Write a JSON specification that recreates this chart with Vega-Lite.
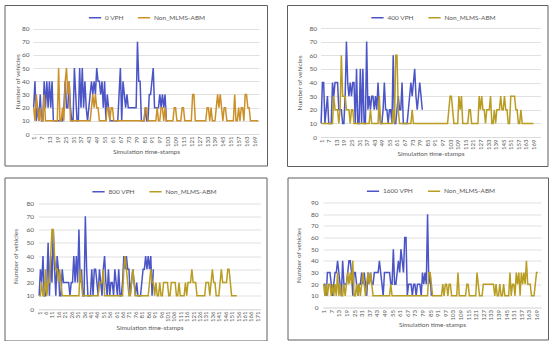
{
"$schema": "https://vega.github.io/schema/vega-lite/v6.json",
"background": "white",
"padding": {"left": 3.5, "top": 4, "right": 0, "bottom": 0},
"spacing": 9.5,
"resolve": {"scale": {"color": "independent"}, "legend": {"color": "independent"}},
"config": {
  "font": "Lato",
  "view": {"stroke": "#5f5f5f", "strokeWidth": 1},
  "axis": {"labelFontSize": 6.5, "labelColor": "#595959", "titleFontSize": 6.5, "titleColor": "#595959", "titleFontWeight": "normal", "gridColor": "#d9d9d9", "gridWidth": 0.8, "ticks": false, "domainColor": "#d9d9d9", "domainWidth": 0.8},
  "axisX": {"labelFontSize": 6},
  "legend": {"labelFontSize": 6.5, "labelColor": "#595959", "symbolType": "stroke", "symbolStrokeWidth": 2, "symbolSize": 150, "columnSpacing": 8, "labelOffset": 3, "symbolOffset": 0, "padding": 0},
  "line": {"strokeWidth": 1.5}
},
"datasets": {
"p1": [
{"t":1,"v":20,"n":20},{"t":2,"v":40,"n":10},{"t":3,"v":10,"n":30},{"t":4,"v":20,"n":20},{"t":5,"v":10,"n":10},{"t":6,"v":30,"n":20},{"t":7,"v":10,"n":10},{"t":8,"v":10,"n":10},{"t":9,"v":40,"n":30},{"t":10,"v":20,"n":10},
{"t":11,"v":40,"n":10},{"t":12,"v":20,"n":10},{"t":13,"v":40,"n":10},{"t":14,"v":20,"n":10},{"t":15,"v":40,"n":10},{"t":16,"v":10,"n":10},{"t":17,"v":10,"n":10},{"t":18,"v":10,"n":10},{"t":19,"v":10,"n":10},{"t":20,"v":10,"n":50},
{"t":21,"v":10,"n":10},{"t":22,"v":10,"n":10},{"t":23,"v":10,"n":20},{"t":24,"v":20,"n":10},{"t":25,"v":40,"n":40},{"t":26,"v":20,"n":50},{"t":27,"v":20,"n":30},{"t":28,"v":40,"n":40},{"t":29,"v":20,"n":10},{"t":30,"v":10,"n":10},
{"t":31,"v":10,"n":10},{"t":32,"v":50,"n":10},{"t":33,"v":30,"n":10},{"t":34,"v":10,"n":10},{"t":35,"v":10,"n":10},{"t":36,"v":50,"n":10},{"t":37,"v":20,"n":10},{"t":38,"v":50,"n":10},{"t":39,"v":20,"n":10},{"t":40,"v":40,"n":10},
{"t":41,"v":20,"n":10},{"t":42,"v":10,"n":10},{"t":43,"v":20,"n":10},{"t":44,"v":30,"n":10},{"t":45,"v":40,"n":20},{"t":46,"v":30,"n":30},{"t":47,"v":40,"n":20},{"t":48,"v":30,"n":30},{"t":49,"v":50,"n":20},{"t":50,"v":40,"n":20},
{"t":51,"v":40,"n":10},{"t":52,"v":30,"n":10},{"t":53,"v":40,"n":10},{"t":54,"v":20,"n":10},{"t":55,"v":40,"n":10},{"t":56,"v":10,"n":10},{"t":57,"v":30,"n":20},{"t":58,"v":20,"n":20},{"t":59,"v":10,"n":10},{"t":60,"v":10,"n":20},
{"t":61,"v":10,"n":20},{"t":62,"v":10,"n":10},{"t":63,"v":10,"n":10},{"t":64,"v":10,"n":10},{"t":65,"v":10,"n":10},{"t":66,"v":30,"n":10},{"t":67,"v":50,"n":10},{"t":68,"v":10,"n":10},{"t":69,"v":40,"n":10},{"t":70,"v":30,"n":10},
{"t":71,"v":20,"n":10},{"t":72,"v":30,"n":10},{"t":73,"v":20,"n":10},{"t":74,"v":20,"n":10},{"t":75,"v":20,"n":10},{"t":76,"v":20,"n":10},{"t":77,"v":20,"n":10},{"t":78,"v":20,"n":10},{"t":79,"v":20,"n":10},{"t":80,"v":70,"n":10},
{"t":81,"v":40,"n":10},{"t":82,"v":40,"n":10},{"t":83,"v":10,"n":10},{"t":84,"v":10,"n":10},{"t":85,"v":10,"n":10},{"t":86,"v":20,"n":20},{"t":87,"v":10,"n":20},{"t":88,"v":10,"n":10},{"t":89,"v":30,"n":10},{"t":90,"v":30,"n":10},
{"t":91,"v":40,"n":10},{"t":92,"v":50,"n":10},{"t":93,"v":20,"n":10},{"t":94,"v":20,"n":10},{"t":95,"v":20,"n":20},{"t":96,"v":20,"n":10},{"t":97,"v":30,"n":10},{"t":98,"v":20,"n":20},{"t":99,"v":30,"n":20},{"t":100,"v":20,"n":10},
{"t":101,"v":30,"n":20},{"t":102,"v":10,"n":10},{"t":103,"v":10,"n":10},{"t":104,"n":10},{"t":105,"n":10},{"t":106,"n":10},{"t":107,"n":10},{"t":108,"n":20},{"t":109,"n":20},{"t":110,"n":10},
{"t":111,"n":10},{"t":112,"n":10},{"t":113,"n":10},{"t":114,"n":20},{"t":115,"n":20},{"t":116,"n":10},{"t":117,"n":10},{"t":118,"n":10},{"t":119,"n":10},{"t":120,"n":10},
{"t":121,"n":10},{"t":122,"n":30},{"t":123,"n":30},{"t":124,"n":10},{"t":125,"n":10},{"t":126,"n":10},{"t":127,"n":10},{"t":128,"n":10},{"t":129,"n":10},{"t":130,"n":10},
{"t":131,"n":10},{"t":132,"n":10},{"t":133,"n":20},{"t":134,"n":20},{"t":135,"n":10},{"t":136,"n":20},{"t":137,"n":10},{"t":138,"n":10},{"t":139,"n":10},{"t":140,"n":20},
{"t":141,"n":30},{"t":142,"n":20},{"t":143,"n":30},{"t":144,"n":20},{"t":145,"n":10},{"t":146,"n":20},{"t":147,"n":20},{"t":148,"n":10},{"t":149,"n":10},{"t":150,"n":10},
{"t":151,"n":10},{"t":152,"n":10},{"t":153,"n":10},{"t":154,"n":30},{"t":155,"n":10},{"t":156,"n":10},{"t":157,"n":20},{"t":158,"n":10},{"t":159,"n":20},{"t":160,"n":20},
{"t":161,"n":10},{"t":162,"n":30},{"t":163,"n":30},{"t":164,"n":20},{"t":165,"n":20},{"t":166,"n":10},{"t":167,"n":10},{"t":168,"n":10},{"t":169,"n":10},{"t":170,"n":10},
{"t":171,"n":10},{"t":172,"n":10}
],
"p2": [
{"t":1,"v":10,"n":10},{"t":2,"v":40,"n":10},{"t":3,"v":40,"n":10},{"t":4,"v":10,"n":10},{"t":5,"v":20,"n":10},{"t":6,"v":30,"n":10},{"t":7,"v":10,"n":10},{"t":8,"v":10,"n":10},{"t":9,"v":10,"n":10},{"t":10,"v":40,"n":10},
{"t":11,"v":30,"n":30},{"t":12,"v":40,"n":20},{"t":13,"v":40,"n":20},{"t":14,"v":40,"n":20},{"t":15,"v":20,"n":10},{"t":16,"v":20,"n":20},{"t":17,"v":20,"n":60},{"t":18,"v":10,"n":30},{"t":19,"v":10,"n":30},{"t":20,"v":30,"n":30},
{"t":21,"v":70,"n":20},{"t":22,"v":40,"n":20},{"t":23,"v":30,"n":20},{"t":24,"v":40,"n":10},{"t":25,"v":30,"n":20},{"t":26,"v":40,"n":20},{"t":27,"v":40,"n":10},{"t":28,"v":10,"n":10},{"t":29,"v":50,"n":10},{"t":30,"v":10,"n":10},
{"t":31,"v":10,"n":10},{"t":32,"v":50,"n":10},{"t":33,"v":10,"n":10},{"t":34,"v":50,"n":10},{"t":35,"v":10,"n":10},{"t":36,"v":10,"n":10},{"t":37,"v":70,"n":10},{"t":38,"v":20,"n":10},{"t":39,"v":30,"n":10},{"t":40,"v":20,"n":20},
{"t":41,"v":30,"n":10},{"t":42,"v":30,"n":10},{"t":43,"v":20,"n":10},{"t":44,"v":30,"n":10},{"t":45,"v":20,"n":10},{"t":46,"v":40,"n":10},{"t":47,"v":20,"n":30},{"t":48,"v":10,"n":10},{"t":49,"v":10,"n":10},{"t":50,"v":20,"n":10},
{"t":51,"v":40,"n":10},{"t":52,"v":20,"n":10},{"t":53,"v":20,"n":10},{"t":54,"v":10,"n":10},{"t":55,"v":20,"n":10},{"t":56,"v":20,"n":10},{"t":57,"v":10,"n":10},{"t":58,"v":60,"n":20},{"t":59,"v":10,"n":10},{"t":60,"v":10,"n":60},
{"t":61,"v":20,"n":60},{"t":62,"v":30,"n":20},{"t":63,"v":20,"n":10},{"t":64,"v":20,"n":10},{"t":65,"v":40,"n":10},{"t":66,"v":10,"n":10},{"t":67,"v":10,"n":10},{"t":68,"v":10,"n":10},{"t":69,"v":10,"n":10},{"t":70,"v":20,"n":10},
{"t":71,"v":30,"n":10},{"t":72,"v":40,"n":10},{"t":73,"v":30,"n":20},{"t":74,"v":40,"n":10},{"t":75,"v":50,"n":10},{"t":76,"v":30,"n":10},{"t":77,"v":20,"n":10},{"t":78,"v":30,"n":10},{"t":79,"v":40,"n":10},{"t":80,"v":30,"n":10},
{"t":81,"v":20,"n":10},{"t":82,"n":10},{"t":83,"n":10},{"t":84,"n":10},{"t":85,"n":10},{"t":86,"n":10},{"t":87,"n":10},{"t":88,"n":10},{"t":89,"n":10},{"t":90,"n":10},
{"t":91,"n":10},{"t":92,"n":10},{"t":93,"n":10},{"t":94,"n":10},{"t":95,"n":10},{"t":96,"n":10},{"t":97,"n":10},{"t":98,"n":10},{"t":99,"n":10},{"t":100,"n":10},
{"t":101,"n":10},{"t":102,"n":20},{"t":103,"n":30},{"t":104,"n":30},{"t":105,"n":20},{"t":106,"n":10},{"t":107,"n":10},{"t":108,"n":10},{"t":109,"n":10},{"t":110,"n":30},
{"t":111,"n":20},{"t":112,"n":30},{"t":113,"n":10},{"t":114,"n":10},{"t":115,"n":10},{"t":116,"n":10},{"t":117,"n":10},{"t":118,"n":20},{"t":119,"n":20},{"t":120,"n":10},
{"t":121,"n":10},{"t":122,"n":10},{"t":123,"n":10},{"t":124,"n":10},{"t":125,"n":10},{"t":126,"n":30},{"t":127,"n":20},{"t":128,"n":30},{"t":129,"n":20},{"t":130,"n":20},
{"t":131,"n":10},{"t":132,"n":20},{"t":133,"n":20},{"t":134,"n":20},{"t":135,"n":30},{"t":136,"n":10},{"t":137,"n":10},{"t":138,"n":20},{"t":139,"n":10},{"t":140,"n":20},
{"t":141,"n":20},{"t":142,"n":20},{"t":143,"n":30},{"t":144,"n":20},{"t":145,"n":20},{"t":146,"n":30},{"t":147,"n":20},{"t":148,"n":20},{"t":149,"n":10},{"t":150,"n":10},
{"t":151,"n":30},{"t":152,"n":30},{"t":153,"n":30},{"t":154,"n":30},{"t":155,"n":20},{"t":156,"n":20},{"t":157,"n":10},{"t":158,"n":10},{"t":159,"n":20},{"t":160,"n":10},
{"t":161,"n":10},{"t":162,"n":10},{"t":163,"n":10},{"t":164,"n":10},{"t":165,"n":10},{"t":166,"n":10},{"t":167,"n":10},{"t":168,"n":10},{"t":169,"n":10}
],
"p3": [
{"t":1,"v":10,"n":10},{"t":2,"v":30,"n":10},{"t":3,"v":20,"n":20},{"t":4,"v":40,"n":10},{"t":5,"v":10,"n":10},{"t":6,"v":10,"n":30},{"t":7,"v":20,"n":10},{"t":8,"v":50,"n":20},{"t":9,"v":10,"n":20},{"t":10,"v":40,"n":40},
{"t":11,"v":20,"n":60},{"t":12,"v":60,"n":60},{"t":13,"v":30,"n":40},{"t":14,"v":10,"n":30},{"t":15,"v":40,"n":30},{"t":16,"v":30,"n":20},{"t":17,"v":10,"n":30},{"t":18,"v":10,"n":20},{"t":19,"v":30,"n":10},{"t":20,"v":20,"n":10},
{"t":21,"v":20,"n":10},{"t":22,"v":20,"n":10},{"t":23,"v":20,"n":10},{"t":24,"v":20,"n":10},{"t":25,"v":10,"n":10},{"t":26,"v":20,"n":10},{"t":27,"v":20,"n":10},{"t":28,"v":40,"n":10},{"t":29,"v":20,"n":10},{"t":30,"v":40,"n":10},
{"t":31,"v":20,"n":10},{"t":32,"v":60,"n":10},{"t":33,"v":20,"n":30},{"t":34,"v":30,"n":20},{"t":35,"v":10,"n":10},{"t":36,"v":10,"n":10},{"t":37,"v":70,"n":10},{"t":38,"v":30,"n":10},{"t":39,"v":10,"n":10},{"t":40,"v":10,"n":10},
{"t":41,"v":10,"n":10},{"t":42,"v":30,"n":10},{"t":43,"v":10,"n":10},{"t":44,"v":30,"n":10},{"t":45,"v":30,"n":10},{"t":46,"v":20,"n":10},{"t":47,"v":10,"n":10},{"t":48,"v":30,"n":20},{"t":49,"v":20,"n":20},{"t":50,"v":10,"n":20},
{"t":51,"v":30,"n":30},{"t":52,"v":40,"n":10},{"t":53,"v":20,"n":10},{"t":54,"v":10,"n":10},{"t":55,"v":30,"n":10},{"t":56,"v":10,"n":10},{"t":57,"v":20,"n":10},{"t":58,"v":20,"n":10},{"t":59,"v":10,"n":10},{"t":60,"v":30,"n":10},
{"t":61,"v":20,"n":10},{"t":62,"v":10,"n":10},{"t":63,"v":30,"n":10},{"t":64,"v":10,"n":10},{"t":65,"v":10,"n":10},{"t":66,"v":20,"n":10},{"t":67,"v":40,"n":30},{"t":68,"v":30,"n":40},{"t":69,"v":40,"n":30},{"t":70,"v":30,"n":20},
{"t":71,"v":30,"n":10},{"t":72,"v":10,"n":10},{"t":73,"v":20,"n":20},{"t":74,"v":30,"n":30},{"t":75,"v":20,"n":20},{"t":76,"v":10,"n":10},{"t":77,"v":20,"n":10},{"t":78,"v":10,"n":10},{"t":79,"v":10,"n":10},{"t":80,"v":10,"n":10},
{"t":81,"v":20,"n":10},{"t":82,"v":30,"n":10},{"t":83,"v":30,"n":10},{"t":84,"v":40,"n":10},{"t":85,"v":30,"n":10},{"t":86,"v":40,"n":10},{"t":87,"v":30,"n":20},{"t":88,"v":40,"n":30},{"t":89,"v":10,"n":20},{"t":90,"v":30,"n":20},
{"t":91,"n":10},{"t":92,"n":20},{"t":93,"n":10},{"t":94,"n":10},{"t":95,"n":20},{"t":96,"n":10},{"t":97,"n":10},{"t":98,"n":20},{"t":99,"n":20},{"t":100,"n":20},
{"t":101,"n":20},{"t":102,"n":10},{"t":103,"n":10},{"t":104,"n":20},{"t":105,"n":20},{"t":106,"n":20},{"t":107,"n":20},{"t":108,"n":10},{"t":109,"n":10},{"t":110,"n":20},
{"t":111,"n":10},{"t":112,"n":10},{"t":113,"n":10},{"t":114,"n":10},{"t":115,"n":20},{"t":116,"n":10},{"t":117,"n":20},{"t":118,"n":20},{"t":119,"n":20},{"t":120,"n":30},
{"t":121,"n":20},{"t":122,"n":20},{"t":123,"n":20},{"t":124,"n":10},{"t":125,"n":10},{"t":126,"n":10},{"t":127,"n":10},{"t":128,"n":10},{"t":129,"n":10},{"t":130,"n":10},
{"t":131,"n":20},{"t":132,"n":20},{"t":133,"n":20},{"t":134,"n":10},{"t":135,"n":20},{"t":136,"n":30},{"t":137,"n":20},{"t":138,"n":20},{"t":139,"n":10},{"t":140,"n":10},
{"t":141,"n":10},{"t":142,"n":20},{"t":143,"n":30},{"t":144,"n":20},{"t":145,"n":20},{"t":146,"n":20},{"t":147,"n":20},{"t":148,"n":30},{"t":149,"n":30},{"t":150,"n":20},
{"t":151,"n":10},{"t":152,"n":10},{"t":153,"n":10},{"t":154,"n":10},{"t":155,"n":10}
],
"p4": [
{"t":1,"v":20,"n":20},{"t":2,"v":20,"n":10},{"t":3,"v":10,"n":20},{"t":4,"v":30,"n":10},{"t":5,"v":30,"n":20},{"t":6,"v":30,"n":20},{"t":7,"v":20,"n":10},{"t":8,"v":10,"n":20},{"t":9,"v":20,"n":10},{"t":10,"v":30,"n":20},
{"t":11,"v":30,"n":10},{"t":12,"v":40,"n":30},{"t":13,"v":30,"n":10},{"t":14,"v":20,"n":20},{"t":15,"v":10,"n":10},{"t":16,"v":40,"n":10},{"t":17,"v":20,"n":20},{"t":18,"v":20,"n":10},{"t":19,"v":20,"n":20},{"t":20,"v":30,"n":30},
{"t":21,"v":40,"n":20},{"t":22,"v":40,"n":30},{"t":23,"v":30,"n":20},{"t":24,"v":10,"n":40},{"t":25,"v":30,"n":10},{"t":26,"v":30,"n":10},{"t":27,"v":20,"n":20},{"t":28,"v":10,"n":10},{"t":29,"v":20,"n":20},{"t":30,"v":20,"n":10},
{"t":31,"v":30,"n":20},{"t":32,"v":20,"n":30},{"t":33,"v":30,"n":20},{"t":34,"v":20,"n":10},{"t":35,"v":10,"n":20},{"t":36,"v":30,"n":30},{"t":37,"v":20,"n":20},{"t":38,"v":30,"n":30},{"t":39,"v":20,"n":20},{"t":40,"v":20,"n":10},
{"t":41,"v":30,"n":10},{"t":42,"v":30,"n":10},{"t":43,"v":30,"n":10},{"t":44,"v":30,"n":10},{"t":45,"v":40,"n":10},{"t":46,"v":30,"n":10},{"t":47,"v":20,"n":10},{"t":48,"v":10,"n":10},{"t":49,"v":30,"n":10},{"t":50,"v":30,"n":10},
{"t":51,"v":30,"n":10},{"t":52,"v":30,"n":10},{"t":53,"v":30,"n":10},{"t":54,"v":20,"n":20},{"t":55,"v":20,"n":10},{"t":56,"v":50,"n":10},{"t":57,"v":20,"n":10},{"t":58,"v":20,"n":10},{"t":59,"v":30,"n":10},{"t":60,"v":40,"n":10},
{"t":61,"v":30,"n":10},{"t":62,"v":50,"n":10},{"t":63,"v":40,"n":10},{"t":64,"v":30,"n":10},{"t":65,"v":60,"n":10},{"t":66,"v":60,"n":10},{"t":67,"v":10,"n":10},{"t":68,"v":20,"n":10},{"t":69,"v":20,"n":10},{"t":70,"v":20,"n":10},
{"t":71,"v":10,"n":10},{"t":72,"v":20,"n":10},{"t":73,"v":20,"n":10},{"t":74,"v":10,"n":10},{"t":75,"v":20,"n":10},{"t":76,"v":20,"n":10},{"t":77,"v":20,"n":10},{"t":78,"v":10,"n":10},{"t":79,"v":30,"n":10},{"t":80,"v":20,"n":10},
{"t":81,"v":30,"n":10},{"t":82,"v":20,"n":10},{"t":83,"v":80,"n":10},{"t":84,"v":20,"n":30},{"t":85,"v":30,"n":30},{"t":86,"v":10,"n":20},{"t":87,"n":10},{"t":88,"n":10},{"t":89,"n":10},{"t":90,"n":10},
{"t":91,"n":10},{"t":92,"n":10},{"t":93,"n":10},{"t":94,"n":10},{"t":95,"n":20},{"t":96,"n":10},{"t":97,"n":20},{"t":98,"n":20},{"t":99,"n":10},{"t":100,"n":20},
{"t":101,"n":20},{"t":102,"n":10},{"t":103,"n":10},{"t":104,"n":10},{"t":105,"n":10},{"t":106,"n":10},{"t":107,"n":30},{"t":108,"n":10},{"t":109,"n":10},{"t":110,"n":10},
{"t":111,"n":10},{"t":112,"n":10},{"t":113,"n":10},{"t":114,"n":20},{"t":115,"n":20},{"t":116,"n":10},{"t":117,"n":10},{"t":118,"n":10},{"t":119,"n":10},{"t":120,"n":10},
{"t":121,"n":10},{"t":122,"n":30},{"t":123,"n":20},{"t":124,"n":10},{"t":125,"n":10},{"t":126,"n":10},{"t":127,"n":20},{"t":128,"n":20},{"t":129,"n":20},{"t":130,"n":20},
{"t":131,"n":20},{"t":132,"n":20},{"t":133,"n":20},{"t":134,"n":20},{"t":135,"n":20},{"t":136,"n":10},{"t":137,"n":20},{"t":138,"n":10},{"t":139,"n":10},{"t":140,"n":20},
{"t":141,"n":10},{"t":142,"n":10},{"t":143,"n":20},{"t":144,"n":10},{"t":145,"n":10},{"t":146,"n":10},{"t":147,"n":10},{"t":148,"n":30},{"t":149,"n":10},{"t":150,"n":20},
{"t":151,"n":20},{"t":152,"n":10},{"t":153,"n":30},{"t":154,"n":20},{"t":155,"n":30},{"t":156,"n":10},{"t":157,"n":30},{"t":158,"n":20},{"t":159,"n":30},{"t":160,"n":20},
{"t":161,"n":40},{"t":162,"n":20},{"t":163,"n":20},{"t":164,"n":20},{"t":165,"n":10},{"t":166,"n":10},{"t":167,"n":10},{"t":168,"n":20},{"t":169,"n":30},{"t":170,"n":30}
]
},
"vconcat": [
{"spacing": 18.5, "resolve": {"scale": {"color": "independent"}, "legend": {"color": "independent"}}, "hconcat": [
{"width": 262.5, "height": 160.5, "data": {"name": "p1"},
 "transform": [{"fold": ["v","n"], "as": ["s","y"]}, {"filter": "isValid(datum.y)"}],
 "mark": {"type": "line"},
 "encoding": {
  "x": {"field": "t", "type": "quantitative", "scale": {"domain": [0.5,172.5], "range": [28.5,254.5], "nice": false, "zero": false},
        "axis": {"values": [1,7,13,19,25,31,37,43,49,55,61,67,73,79,85,91,97,103,109,115,121,127,133,139,145,151,157,163,169], "offset": -31.5, "labelAngle": -90, "grid": false, "title": "Simulation time-stamps", "labelPadding": 2, "titlePadding": 2, "labelFlush": false, "labelOverlap": false}},
  "y": {"field": "y", "type": "quantitative", "scale": {"domain": [0,80], "range": [129,23.5], "nice": false},
        "axis": {"values": [0,10,20,30,40,50,60,70,80], "offset": -28.5, "title": "Number of vehicles", "domain": false, "labelPadding": 4, "titlePadding": 1}},
  "color": {"field": "s", "type": "nominal", "scale": {"domain": ["v","n"], "range": ["#4B55C6","#CC9029"]},
        "legend": {"orient": "none", "legendX": 83.5, "legendY": 5.5, "direction": "horizontal", "title": null, "labelExpr": "datum.label == 'v' ? '0 VPH' : 'Non_MLMS-ABM'"}}
 }},
{"width": 260.5, "height": 161, "data": {"name": "p2"},
 "transform": [{"fold": ["v","n"], "as": ["s","y"]}, {"filter": "isValid(datum.y)"}],
 "mark": {"type": "line"},
 "encoding": {
  "x": {"field": "t", "type": "quantitative", "scale": {"domain": [0.5,174.5], "range": [33.5,253.5], "nice": false, "zero": false},
        "axis": {"values": [1,7,13,19,25,31,37,43,49,55,61,67,73,79,85,91,97,103,109,115,121,127,133,139,145,151,157,163,169], "offset": -29, "labelAngle": -90, "grid": false, "title": "Simulation time-stamps", "labelPadding": 2, "titlePadding": 1, "labelFlush": false, "labelOverlap": false}},
  "y": {"field": "y", "type": "quantitative", "scale": {"domain": [0,80], "range": [132,23], "nice": false},
        "axis": {"values": [0,10,20,30,40,50,60,70,80], "offset": -33.5, "title": "Number of vehicles", "domain": false, "labelPadding": 4, "titlePadding": 6}},
  "color": {"field": "s", "type": "nominal", "scale": {"domain": ["v","n"], "range": ["#4B55C6","#B99D22"]},
        "legend": {"orient": "none", "legendX": 83.5, "legendY": 5.5, "direction": "horizontal", "title": null, "labelExpr": "datum.label == 'v' ? '400 VPH' : 'Non_MLMS-ABM'"}}
 }}
]},
{"spacing": 19, "resolve": {"scale": {"color": "independent"}, "legend": {"color": "independent"}}, "hconcat": [
{"width": 262, "height": 163, "data": {"name": "p3"},
 "transform": [{"fold": ["v","n"], "as": ["s","y"]}, {"filter": "isValid(datum.y)"}],
 "mark": {"type": "line"},
 "encoding": {
  "x": {"field": "t", "type": "quantitative", "scale": {"domain": [0.5,173.5], "range": [34,256], "nice": false, "zero": false},
        "axis": {"values": [1,6,11,16,21,26,31,36,41,46,51,56,61,66,71,76,81,86,91,96,101,106,111,116,121,126,131,136,141,146,151,156,161,166,171], "offset": -31.5, "labelAngle": -90, "grid": false, "title": "Simulation time-stamps", "labelPadding": 2, "titlePadding": 3, "labelFlush": false, "labelOverlap": false}},
  "y": {"field": "y", "type": "quantitative", "scale": {"domain": [0,80], "range": [131.5,25.5], "nice": false},
        "axis": {"values": [0,10,20,30,40,50,60,70,80], "offset": -34, "title": "Number of vehicles", "domain": false, "labelPadding": 5, "titlePadding": 7}},
  "color": {"field": "s", "type": "nominal", "scale": {"domain": ["v","n"], "range": ["#4B55C6","#B99D22"]},
        "legend": {"orient": "none", "legendX": 87, "legendY": 7, "direction": "horizontal", "title": null, "labelExpr": "datum.label == 'v' ? '800 VPH' : 'Non_MLMS-ABM'"}}
 }},
{"width": 260.5, "height": 162, "data": {"name": "p4"},
 "transform": [{"fold": ["v","n"], "as": ["s","y"]}, {"filter": "isValid(datum.y)"}],
 "mark": {"type": "line"},
 "encoding": {
  "x": {"field": "t", "type": "quantitative", "scale": {"domain": [0.5,172.5], "range": [35.5,253.5], "nice": false, "zero": false},
        "axis": {"values": [1,7,13,19,25,31,37,43,49,55,61,67,73,79,85,91,97,103,109,115,121,127,133,139,145,151,157,163,169], "offset": -32, "labelAngle": -90, "grid": false, "title": "Simulation time-stamps", "labelPadding": 2, "titlePadding": 2, "labelFlush": false, "labelOverlap": false}},
  "y": {"field": "y", "type": "quantitative", "scale": {"domain": [0,90], "range": [130,25], "nice": false},
        "axis": {"values": [0,10,20,30,40,50,60,70,80,90], "offset": -35.5, "title": "Number of vehicles", "domain": false, "labelPadding": 5, "titlePadding": 9}},
  "color": {"field": "s", "type": "nominal", "scale": {"domain": ["v","n"], "range": ["#4B55C6","#B99D22"]},
        "legend": {"orient": "none", "legendX": 78.5, "legendY": 6.5, "direction": "horizontal", "title": null, "labelExpr": "datum.label == 'v' ? '1600 VPH' : 'Non_MLMS-ABM'"}}
 }}
]}
]
}
